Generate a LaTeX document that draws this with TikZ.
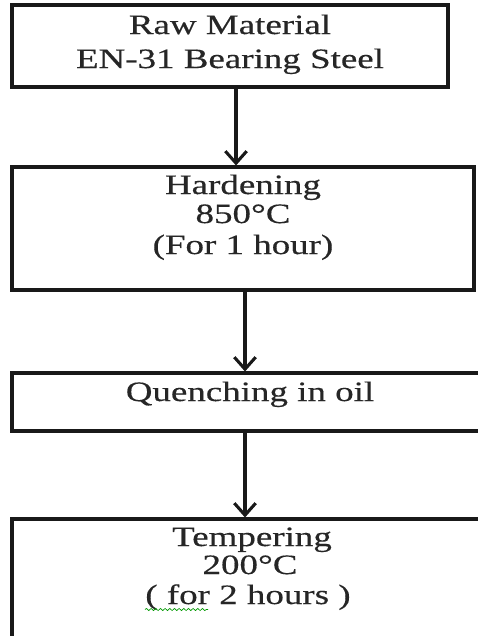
\documentclass[tikz,border=0pt]{standalone}
\usepackage{fontspec}
\setmainfont[FakeBold=0.35]{Liberation Serif}
\usetikzlibrary{arrows.meta,decorations.pathmorphing}
\newcommand\wide[1]{\scalebox{1.32}[1]{#1}}
\tikzset{
  box/.style={draw=black!90, line width=2.3pt, rectangle, inner sep=0pt},
  txt/.style={anchor=base, inner sep=0pt, text=black!85, font=\fontsize{21}{25}\selectfont},
  arr/.style={draw=black!90, line width=2.5pt, -{Straight Barb[length=9pt,width=16pt,line width=2.3pt]}},
}
\begin{document}
\begin{tikzpicture}[x=0.75pt,y=-0.75pt]
\clip (0,0) rectangle (478,636);
\fill[white] (0,0) rectangle (478,636);
% boxes
\node[box, minimum width=327pt, minimum height=61.5pt] (b1) at (230,46) {};
\node[box, minimum width=346.5pt, minimum height=92.25pt] (b2) at (243,228.5) {};
\node[box, minimum width=357pt, minimum height=43.5pt] (b3) at (250,402) {};
\node[box, minimum width=352.5pt, minimum height=135.75pt] (b4) at (247,609.5) {};
% texts
\node[txt] (t1a) at (230,34) {\wide{Raw Material}};
\node[txt] (t1b) at (230,68) {\wide{EN-31 Bearing Steel}};
\node[txt] (t2a) at (243,194) {\wide{Hardening}};
\node[txt] (t2b) at (243,223) {\wide{850°C}};
\node[txt] (t2c) at (243,254) {\wide{(For 1 hour)}};
\node[txt] (t3a) at (250,401) {\wide{Quenching in oil}};
\node[txt] (t4a) at (252,546) {\wide{Tempering}};
\node[txt] (t4b) at (250,574) {\wide{200°C}};
\node[txt] (t4c) at (248,604) {\wide{( for 2 hours )}};
% spell-check squiggle
\draw[green!60!black, line width=0.5pt, decorate, decoration={snake, segment length=3.5pt, amplitude=0.8pt}]
  (145,609.5) -- (208,609.5);
% connectors
\draw[arr] ([xshift=4.5pt]b1.south) -- ([xshift=-5.25pt]b2.north);
\draw[arr] ([xshift=1.5pt]b2.south) -- ([xshift=-3.75pt]b3.north);
\draw[arr] ([xshift=-3.75pt]b3.south) -- ([xshift=-1.5pt]b4.north);
\end{tikzpicture}
\end{document}
